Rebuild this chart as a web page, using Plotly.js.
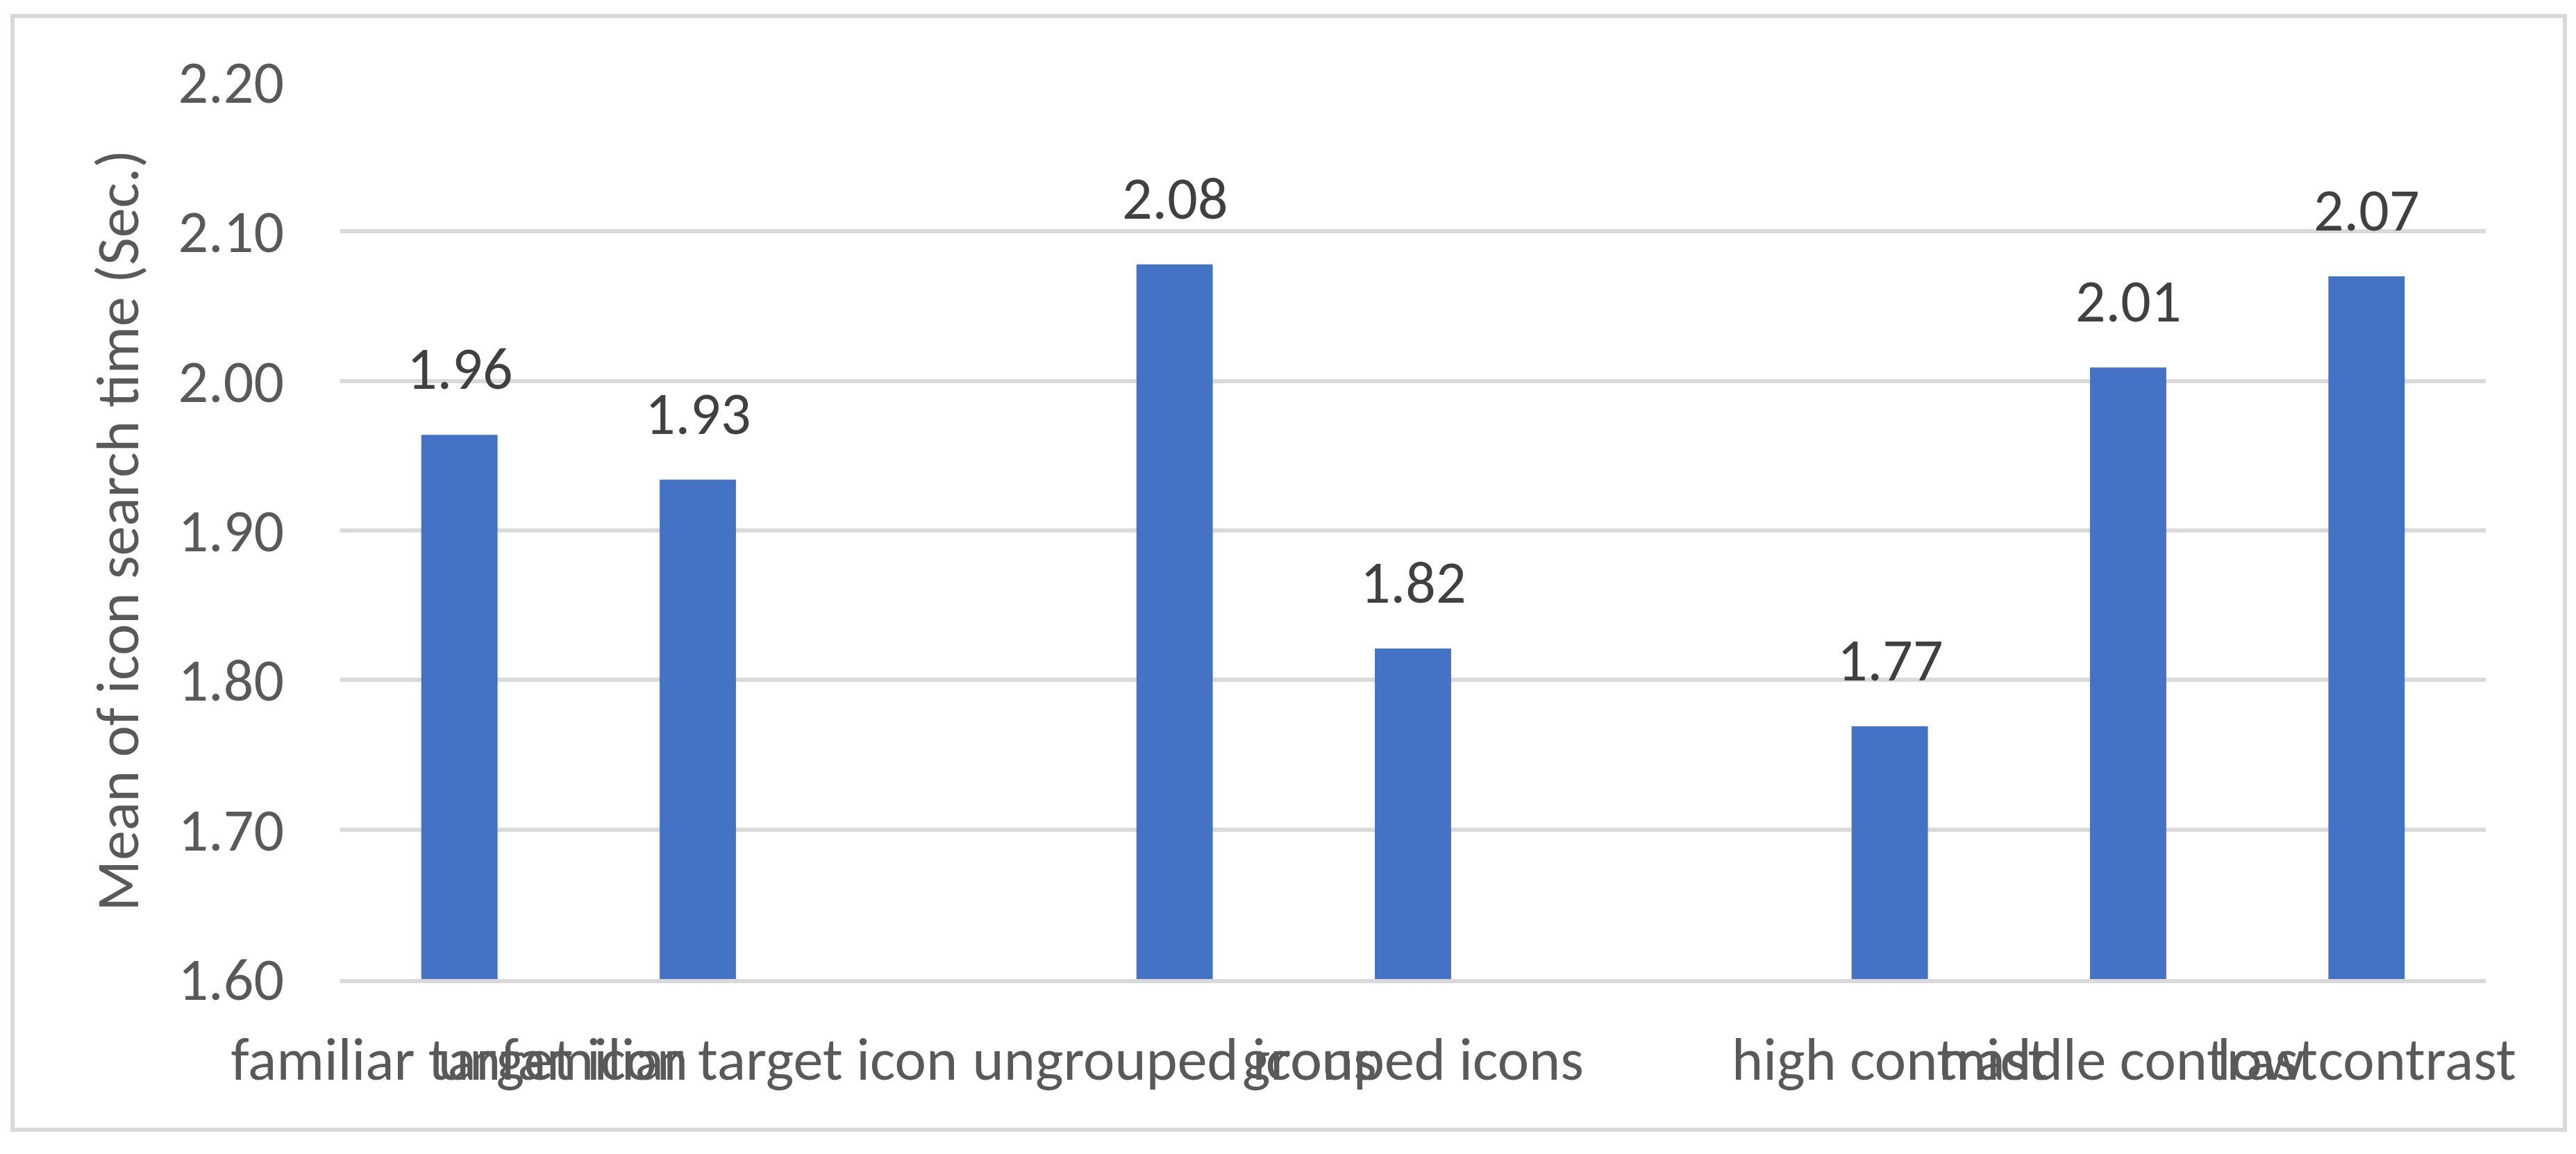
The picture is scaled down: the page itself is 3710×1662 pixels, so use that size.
<!DOCTYPE html>
<html>
<head>
<meta charset="utf-8">
<script src="https://cdn.plot.ly/plotly-3.0.1.min.js"></script>
<style>
  html, body { margin: 0; padding: 0; background: #ffffff; }
  #chart { width: 3710px; height: 1662px; }
</style>
</head>
<body>
<div id="chart"></div>
<script>
// Categories (blank slots separate the three groups)
const categories = [
  'familiar target icon',
  'unfamiliar target icon',
  '',
  'ungrouped icons',
  'grouped icons',
  '',
  'high contrast',
  'middle contrast',
  'low contrast'
];
// Mean icon search time (Sec.)
const meanTimes = [1.964, 1.934, null, 2.078, 1.821, null, 1.769, 2.009, 2.070];
const yTickValues = [1.60, 1.70, 1.80, 1.90, 2.00, 2.10, 2.20];
const yAxisTitle = 'Mean of icon search time (Sec.)';

const FONT = 'Calibri, Carlito, Lato, sans-serif';
const FS = 86;
const slots = categories.map((c, i) => i);

const barTrace = {
  type: 'bar',
  x: slots,
  y: meanTimes,
  marker: { color: '#4472C4' },
  hoverinfo: 'skip',
  showlegend: false
};

const annotations = [];
meanTimes.forEach((v, i) => {
  if (v === null) return;
  annotations.push({
    x: slots[i], y: v, xref: 'x', yref: 'y',
    text: v.toFixed(2),
    showarrow: false,
    yanchor: 'bottom',
    yshift: 41,
    font: { family: FONT, size: FS, color: '#404040' }
  });
});

const layout = {
  width: 3710,
  height: 1662,
  margin: { l: 490, r: 130, t: 118, b: 252, pad: 0 },
  paper_bgcolor: '#ffffff',
  plot_bgcolor: '#ffffff',
  bargap: 0.68,
  showlegend: false,
  font: { family: FONT, size: FS, color: '#595959' },
  xaxis: {
    type: 'linear',
    range: [-0.5, categories.length - 0.5],
    tickmode: 'array',
    tickvals: slots,
    ticktext: categories,
    tickangle: 0,
    ticks: '',
    showgrid: false,
    zeroline: false,
    showline: true,
    linecolor: '#d9d9d9',
    linewidth: 6,
    ticklabelstandoff: 36,
    tickfont: { family: FONT, size: FS, color: '#595959' },
    fixedrange: true
  },
  yaxis: {
    range: [1.6, 2.2],
    tickmode: 'array',
    tickvals: yTickValues,
    ticktext: yTickValues.map(v => v.toFixed(2)),
    ticks: '',
    showgrid: true,
    gridcolor: '#d9d9d9',
    gridwidth: 6,
    zeroline: false,
    showline: false,
    ticklabelstandoff: 80,
    tickfont: { family: FONT, size: FS, color: '#595959' },
    title: {
      text: yAxisTitle,
      font: { family: FONT, size: FS, color: '#595959' },
      standoff: 28
    },
    fixedrange: true
  },
  annotations: annotations,
  shapes: [{
    type: 'rect',
    xref: 'paper', yref: 'paper',
    x0: (18 - 490) / 3090, x1: (3694 - 490) / 3090,
    y0: (1410 - 1627) / 1292, y1: (1410 - 23) / 1292,
    line: { color: '#d9d9d9', width: 6 },
    fillcolor: 'rgba(0,0,0,0)',
    layer: 'below'
  }]
};

Plotly.newPlot('chart', [barTrace], layout, { displayModeBar: false, staticPlot: true });
</script>
</body>
</html>
